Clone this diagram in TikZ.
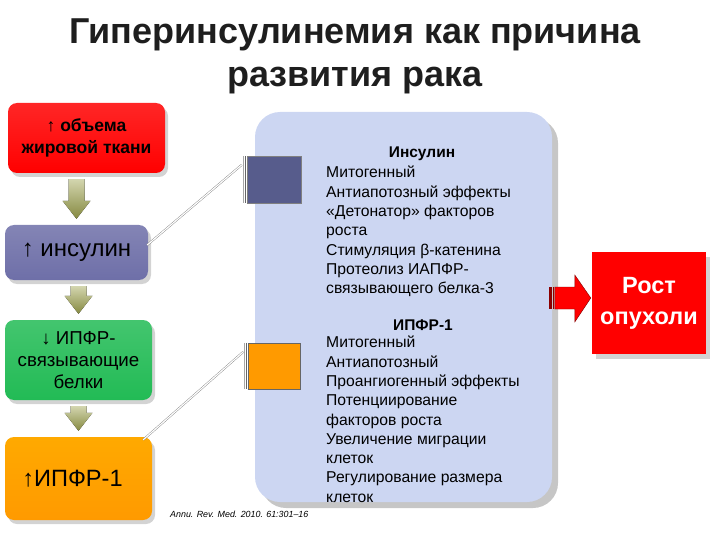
\documentclass[tikz,border=0pt]{standalone}
\usepackage{fontspec}
\setmainfont{Liberation Sans}
\usetikzlibrary{shadows,calc}

\definecolor{fatred}{HTML}{FF0000}
\definecolor{insblue}{HTML}{6E6FA8}
\definecolor{bpgreen}{HTML}{22BB55}
\definecolor{igforange}{HTML}{FF9A00}
\definecolor{panblue}{HTML}{CCD6F2}
\definecolor{sqslate}{HTML}{575C8C}
\definecolor{arrolive}{HTML}{9DA24C}
\definecolor{titlegray}{HTML}{1E1E1E}

\tikzset{
  stepbox/.style={rounded corners=9pt, inner sep=0pt, align=center,
    drop shadow={opacity=0.35, shadow xshift=3pt, shadow yshift=-4pt}},
  downarr/.style={top color=arrolive!45!white, bottom color=arrolive!85!black},
  link/.style={draw=gray, double=white, double distance=1.2pt, line width=0.4pt},
  listtext/.style={anchor=north west, inner sep=0pt, align=left,
    font=\fontsize{15.7}{19.3}\selectfont},
  headtext/.style={inner sep=0pt, font=\bfseries\fontsize{15.5}{17}\selectfont}
}

\begin{document}
\begin{tikzpicture}[x=1pt, y=-1pt]
\useasboundingbox (0,0) rectangle (720,540);

% title
\node[align=center, text=titlegray, font=\bfseries\fontsize{36}{43}\selectfont] (title) at (355,56)
  {Гиперинсулинемия как причина\\развития рака};

% chain on the left
\node[stepbox, top color=fatred!85!white, bottom color=fatred, minimum width=157pt, minimum height=70pt,
  font=\bfseries\fontsize{17.5}{22}\selectfont] (fat) at (86.5,138) {↑ объема\\жировой ткани};
\node[stepbox, top color=insblue!85!white, bottom color=insblue, minimum width=143pt, minimum height=55pt,
  font=\fontsize{24}{26}\selectfont] (ins) at (76.5,252.5) {↑ инсулин};
\node[stepbox, top color=bpgreen!85!white, bottom color=bpgreen, minimum width=147pt, minimum height=80pt,
  font=\fontsize{18.7}{22}\selectfont] (bp) at (78.5,360) {↓ ИПФР-\\связывающие\\белки};
\node[stepbox, top color=igforange!85!yellow, bottom color=igforange, minimum width=147pt, minimum height=83pt,
  font=\fontsize{23.6}{26}\selectfont] (igf) at (78.5,478.5) {\hspace*{-12pt}↑ИПФР-1};

% olive arrows between the boxes
\foreach \a/\b in {fat/ins, ins/bp, bp/igf}
  \fill[downarr] let \p1=(\a.south), \p2=(\b.north) in
    (\x2-8pt,\y1-6pt) -- (\x2+8pt,\y1-6pt) -- (\x2+8pt,\y2+24pt) -- (\x2+14pt,\y2+24pt)
    -- (\x2,\y2+6pt) -- (\x2-14pt,\y2+24pt) -- (\x2-8pt,\y2+24pt) -- cycle;

% effects panel
\node[fill=panblue, rounded corners=25pt, minimum width=297pt, minimum height=390pt,
  drop shadow={opacity=0.45, shadow xshift=6pt, shadow yshift=-6pt}] (pan) at (403.5,307) {};

\node[draw=gray, fill=sqslate, minimum width=54pt, minimum height=47pt, inner sep=0pt] (sqa) at (274,179.5) {};
\node[draw=black!60, fill=igforange, minimum width=52pt, minimum height=46pt, inner sep=0pt] (sqb) at (274.5,366) {};
\foreach \s in {sqa, sqb} {
  \draw[gray!70] ($(\s.north west)+(-4,0)$) -- ($(\s.south west)+(-4,0)$);
  \draw[black!60, line width=1pt] ($(\s.north west)+(-1.5,0)$) -- ($(\s.south west)+(-1.5,0)$);
}
\coordinate (sqa in) at ($(sqa.north west)+(-5,9)$);
\coordinate (sqb in) at ($(sqb.north west)+(-5,9)$);

\draw[link] ($(ins.east)+(-1,-7.5)$) -- (sqa in);
\draw[link] ($(igf.north east)+(-9,3)$) -- (sqb in);

% panel texts
\node[headtext] (hins) at (422,154) {Инсулин};
\node[listtext] (tins) at (326,166) {Митогенный\\Антиапотозный эффекты\\«Детонатор» факторов\\роста\\Стимуляция β-катенина\\Протеолиз ИАПФР-\\связывающего белка-3};
\node[headtext] (higf) at (423,325) {ИПФР-1};
\node[listtext] (tigf) at (326,336) {Митогенный\\Антиапотозный\\Проангиогенный эффекты\\Потенциирование\\факторов роста\\Увеличение миграции\\клеток\\Регулирование размера\\клеток};

\node[anchor=west, inner sep=0pt, font=\itshape\fontsize{8.9}{10}\selectfont] (cite) at (170,514)
  {Annu. Rev. Med. 2010. 61:301–16};

% result
\node[fill=fatred, text=white, minimum width=114pt, minimum height=102pt, align=center, inner sep=0pt,
  drop shadow={opacity=0.35, shadow xshift=4pt, shadow yshift=-5pt},
  font=\bfseries\fontsize{23.5}{31}\selectfont] (tum) at (649,303) {Рост\\опухоли};

\fill[fatred, draw=fatred!50!black, line width=0.4pt] ($(tum.west)+(-37,-16)$) -- ($(tum.west)+(-17,-16)$)
  -- ($(tum.west)+(-17,-28)$) -- ($(tum.west)+(-1,-5)$) -- ($(tum.west)+(-17,19)$)
  -- ($(tum.west)+(-17,6)$) -- ($(tum.west)+(-37,6)$) -- cycle;
\fill[fatred!55!black] ($(tum.west)+(-43,-16)$) rectangle ($(tum.west)+(-40,6)$);
\fill[fatred!55!black] ($(tum.west)+(-39,-16)$) rectangle ($(tum.west)+(-37.5,6)$);
\end{tikzpicture}
\end{document}
